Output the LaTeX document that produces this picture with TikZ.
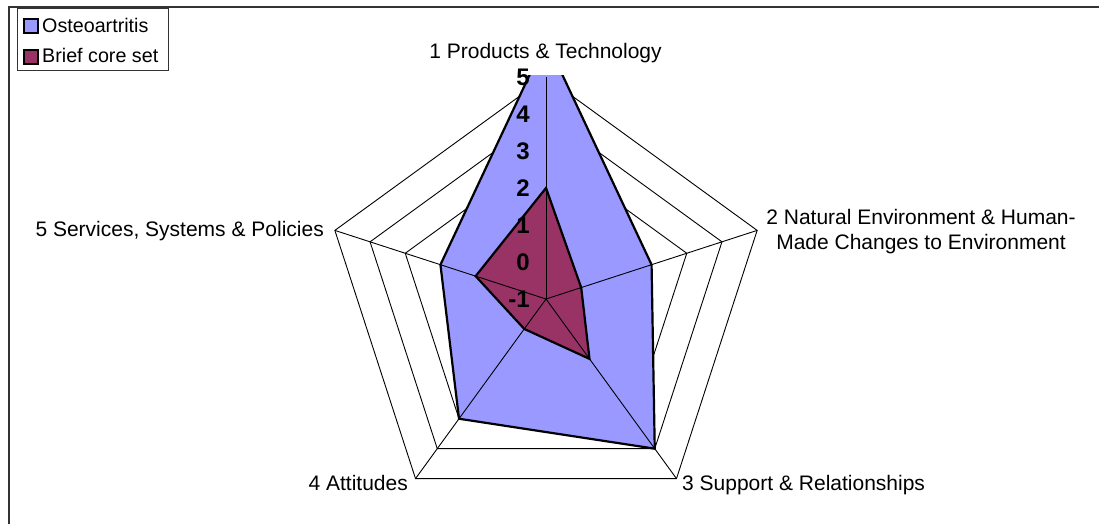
\documentclass[tikz,border=0pt]{standalone}
\usepackage{fontspec}
\setmainfont{Liberation Sans}
\definecolor{osteo}{HTML}{9999FF}
\definecolor{brief}{HTML}{993366}
\begin{document}
\begin{tikzpicture}[x=1pt,y=-1pt,
  lbl/.style={font=\fontsize{21}{25}\selectfont, inner sep=0pt},
  leg/.style={font=\fontsize{19.7}{24}\selectfont, inner sep=0pt, anchor=base west},
  num/.style={font=\fontsize{24}{28}\selectfont\bfseries, inner sep=0pt, anchor=east},
  ring/.style={draw=black, line width=0.9pt},
  spoke/.style={draw=black, line width=0.9pt},
  series/.style={draw=black, line width=2.2pt, line join=miter},
  legsq/.style={draw=black, line width=1.3pt}]
\useasboundingbox (0,0) rectangle (1099,524);
\fill[white] (0,0) rectangle (1099,524);
\begin{scope}[shift={(546,299)}]
  \coordinate (c) at (0,0);
  \foreach \a [count=\i] in {90,18,-54,-126,162} {
    \foreach \k in {1,...,6}
      \coordinate (g\k-\i) at ({37*\k*cos(\a)},{-37*\k*sin(\a)});
  }
  % data: Osteoartritis 6,2,4,3,2 ; Brief core set 2,0,1,0,1 ; r = 37*(v+1)
  \foreach \a/\r [count=\i] in {90/259,18/111,-54/185,-126/148,162/111}
    \coordinate (o\i) at ({\r*cos(\a)},{-\r*sin(\a)});
  \foreach \a/\r [count=\i] in {90/111,18/37,-54/74,-126/37,162/74}
    \coordinate (b\i) at ({\r*cos(\a)},{-\r*sin(\a)});
  % grid rings
  \foreach \k in {1,...,6}
    \draw[ring] (g\k-1) -- (g\k-2) -- (g\k-3) -- (g\k-4) -- (g\k-5) -- cycle;
  % fills
  \begin{scope}
    \clip (-600,-223.3) rectangle (600,300);
    \fill[osteo] (o1) -- (o2) -- (o3) -- (o4) -- (o5) -- cycle;
  \end{scope}
  \fill[brief] (b1) -- (b2) -- (b3) -- (b4) -- (b5) -- cycle;
  % spokes
  \foreach \i in {1,...,5}
    \draw[spoke] (c) -- (g6-\i);
  % outlines
  \begin{scope}
    \clip (-600,-223.3) rectangle (600,300);
    \draw[series] (o1) -- (o2) -- (o3) -- (o4) -- (o5) -- cycle;
  \end{scope}
  \draw[series] (b1) -- (b2) -- (b3) -- (b4) -- (b5) -- cycle;
\end{scope}
% axis value labels
\foreach \v in {-1,...,5}
  \node[num] (n\v) at (530,{299-37*(\v+1)}) {\v};
% category labels
\node[lbl, anchor=base] (cat1) at (545.5,59) {1 Products \& Technology};
\node[lbl, anchor=base] (cat2) at (921,224) {\begin{tabular}[t]{@{}c@{}}2 Natural Environment \& Human-\\Made Changes to Environment\end{tabular}};
\node[lbl, anchor=base west] (cat3) at (682,490) {3 Support \& Relationships};
\node[lbl, anchor=base east] (cat4) at (408,490) {4 Attitudes};
\node[lbl, anchor=base east] (cat5) at (324,236) {5 Services, Systems \& Policies};
% legend
\draw[black!80, line width=1pt] (17,9) rectangle (168,71);
\draw[legsq, fill=osteo] (24,19) rectangle (38,33);
\draw[legsq, fill=brief] (24,50) rectangle (38,64);
\node[leg] (l1) at (42,33) {Osteoartritis};
\node[leg] (l2) at (42,63) {Brief core set};
% chart frame
\draw[black!80, line width=2pt] (9,540) -- (9,7) -- (1110,7);
\end{tikzpicture}
\end{document}
